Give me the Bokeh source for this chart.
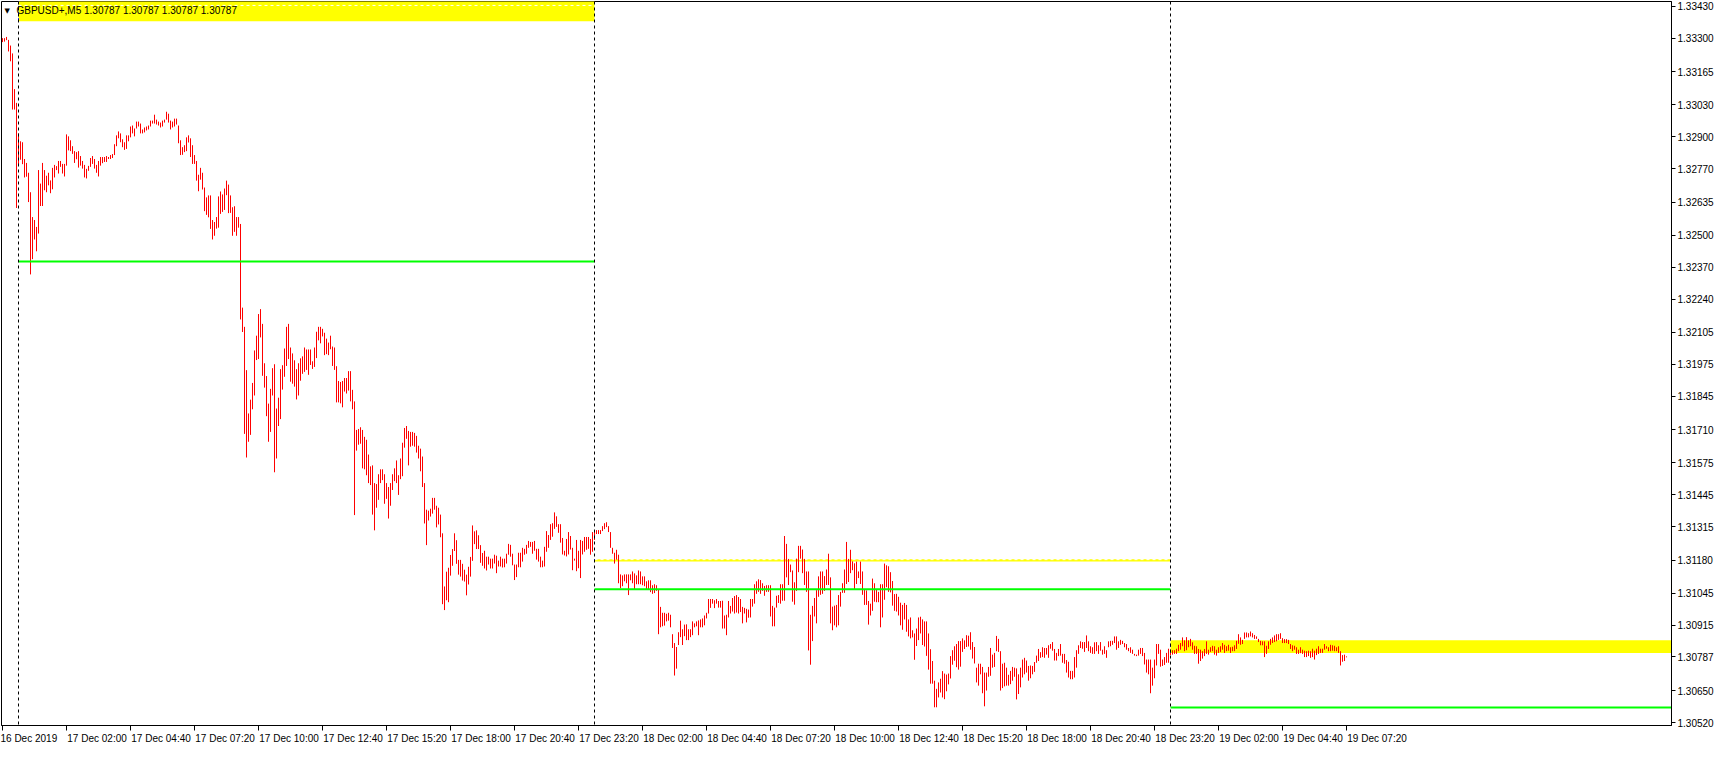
import pandas as pd
from bokeh.plotting import figure
from bokeh.models import Range1d, FixedTicker, PrintfTickFormatter, Span, Label, ColumnDataSource
from bokeh.embed import file_html
from bokeh.resources import INLINE

SYMBOL = "GBPUSD+,M5"
LAST_OHLC = [1.30787, 1.30787, 1.30787, 1.30787]
FIRST_BAR_TIME = "2019-12-16 23:20"
BAR_FREQ = "5min"
POINT = 0.00001  # prices below are stored in points (1e-5)

HIGH_PTS = [
    133301,133301,133306,133294,133271,133239,133094,133038,132914,132882,
    132878,132810,132794,132754,132675,132574,132562,132534,132765,132710,
    132794,132765,132742,132754,132723,132774,132786,132781,132802,132802,
    132790,132790,132910,132902,132886,132862,132842,132838,132842,132822,
    132802,132786,132770,132782,132814,132822,132810,132786,132802,132818,
    132818,132818,132822,132818,132826,132830,132870,132906,132922,132914,
    132890,132878,132906,132906,132942,132946,132934,132962,132962,132954,
    132930,132938,132942,132946,132966,132966,132990,132970,132962,132958,
    132966,132970,133002,132994,132966,132962,132974,132974,132946,132886,
    132858,132866,132898,132906,132894,132866,132826,132802,132746,132774,
    132754,132694,132654,132662,132662,132562,132554,132574,132658,132678,
    132666,132690,132722,132706,132662,132614,132618,132574,132574,132546,
    132206,
    132128,131952,131776,131832,131900,132032,132092,132180,132200,132140,
    131980,131928,131816,131876,131960,131976,131796,131840,131956,131972,
    132040,132128,132140,132044,132020,131992,131956,131980,132000,132008,
    132044,132036,132036,132036,131988,132044,132108,132128,132128,132120,
    132104,132080,132064,132092,132048,132044,131968,131908,131904,131908,
    131920,131920,131948,131948,131872,131825,131709,131713,131720,131709,
    131681,131669,131609,131561,131565,131493,131489,131529,131549,131549,
    131529,131493,131477,131493,131529,131553,131585,131525,131593,131657,
    131717,131725,131705,131701,131701,131697,131685,131645,131633,131601,
    131493,131385,131381,131389,131433,131433,131401,131393,131365,131289,
    131073,131133,131149,131201,131225,131289,131261,131181,131181,131165,
    131141,131121,131153,131193,131321,131297,131301,131281,
    131241,131209,
    131218,131194,131194,131186,131186,131202,131198,131178,131194,131186,
    131186,131206,131246,131242,131206,131162,131162,131210,131210,131230,
    131226,131242,131258,131254,131254,131258,131226,131226,131194,131178,
    131234,131298,131282,131326,131330,131374,131358,131326,131326,131270,
    131218,131266,131294,131278,131230,131186,131262,131218,131262,131258,
    131274,131274,131274,131266,131294,131302,131302,131302,131302,131318,
    131330,131334,131318,131294,131230,131210,131222,131202,131122,131118,
    131122,131122,131122,131122,131134,131126,131118,131138,131134,131114,
    131114,131094,131098,131098,131078,131082,131078,131062,130990,130966,
    130966,130962,130966,130958,130879,130843,130827,130887,130934,130899,
    130918,130919,130899,130899,130931,130923,130931,130935,130939,130943,
    130955,130966,131022,131022,131022,131017,131022,131014,131014,131015,
    130955,130958,131014,130994,131026,131034,131038,131030,131022,130990,
    130986,130982,130979,131022,131022,131082,131094,131102,131099,131086,
    131075,131078,131078,131078,130994,130987,131035,131038,131082,131082,
    131278,131246,131185,131162,131138,131090,131186,131238,131238,131223,
    131185,131134,131134,130958,130994,131026,131058,131114,131134,131134,
    131115,131142,131206,131110,130991,130995,130998,131038,131051,131086,
    131142,131254,131185,131222,131175,131167,131174,131134,131174,131134,
    131059,131057,131014,131003,131105,131086,131062,131051,131082,131082,
    131166,131159,131155,131131,131095,131042,131043,131031,131007,130998,
    131006,130998,130939,130947,130895,130882,130902,130947,130950,130939,
    130931,130931,130882,130818,130770,130690,130657,130683,130698,130729,
    130719,130715,130719,130790,130814,130830,130839,130851,130851,130862,
    130854,130875,130873,
    130887,130847,130827,130743,130759,130759,130746,130723,130723,130746,
    130823,130796,130803,130872,130860,130810,130759,130763,130743,130714,
    130730,130746,130743,130740,130716,130743,130776,130783,130772,130750,
    130752,130750,130766,130792,130819,130806,130826,130823,130823,130834,
    130839,130847,130819,130803,130819,130839,130799,130799,130774,130767,
    130730,130730,130786,130814,130834,130850,130847,130847,130874,130850,
    130830,130826,130846,130847,130834,130847,130816,130830,130814,130850,
    130852,130852,130870,130870,130850,130856,130852,130843,130839,130823,
    130826,130816,130799,130796,130816,130823,130823,130803,130776,130776,
    130776,130743,130776,130839,130839,130816,130776,130786,130803,130820,
    130816,130814,130814,130820,130836,130843,130866,130854,130867,130854,
    130860,130846,130832,130830,130819,130816,130810,130819,130850,130816,
    130826,130832,130830,130816,130826,130830,130843,130836,130830,130836,
    130826,130828,130834,130852,130879,130866,130856,130886,130886,130883,
    130890,130883,130876,130870,130860,130852,130850,130850,130832,130850,
    130860,130866,130874,130879,130879,130883,130863,130859,130859,130856,
    130839,130834,130832,130826,130816,130826,130816,130812,130810,130812,
    130810,130820,130812,130820,130830,130820,130820,130839,130830,130826,
    130836,130834,130832,130826,130830,130810,130794,130796,130789,
]

LOW_PTS = [
    133285,133287,133293,133247,133207,133011,133011,132611,132787,132807,
    132789,132735,132738,132635,132341,132403,132483,132435,132507,132619,
    132619,132683,132675,132703,132671,132687,132735,132765,132751,132778,
    132751,132739,132783,132845,132842,132831,132794,132809,132775,132783,
    132771,132735,132731,132762,132778,132790,132771,132754,132739,132783,
    132793,132798,132798,132810,132810,132814,132826,132862,132894,132878,
    132858,132847,132851,132882,132898,132914,132902,132934,132942,132914,
    132914,132918,132926,132930,132942,132954,132954,132950,132946,132938,
    132942,132958,132970,132958,132930,132938,132942,132950,132874,132826,
    132827,132838,132842,132877,132818,132790,132790,132722,132679,132726,
    132686,132598,132583,132573,132526,132483,132498,132527,132531,132587,
    132595,132603,132663,132590,132591,132498,132514,132498,132531,132158,
    132107,
    131693,131597,131661,131689,131793,131849,131993,131997,132085,131929,
    131881,131765,131661,131701,131849,131537,131593,131725,131753,131873,
    131925,131969,131997,131905,131897,131885,131833,131849,131909,131937,
    131945,131953,131933,131973,131957,131965,132001,132073,132061,132089,
    132013,132017,132013,132037,131969,131953,131821,131821,131817,131801,
    131865,131857,131869,131825,131793,131363,131625,131649,131653,131553,
    131549,131525,131493,131485,131365,131301,131393,131425,131493,131505,
    131409,131429,131349,131401,131465,131501,131493,131445,131509,131521,
    131637,131673,131565,131641,131645,131641,131617,131593,131541,131477,
    131329,131241,131341,131357,131369,131385,131313,131325,131273,131001,
    130977,131017,131009,131117,131157,131217,131165,131121,131113,131097,
    131093,131037,131081,131113,131177,131245,131225,131225,
    131169,131157,
    131146,131138,131162,131146,131146,131166,131127,131154,131154,131150,
    131151,131166,131202,131194,131159,131099,131111,131151,131151,131174,
    131202,131206,131230,131234,131206,131218,131182,131174,131151,131151,
    131154,131214,131230,131262,131275,131307,131315,131291,131251,131203,
    131199,131195,131203,131223,131139,131178,131135,131147,131107,131203,
    131214,131222,131226,131202,131214,131262,131286,131286,131286,131298,
    131306,131314,131294,131230,131206,131166,131182,131086,131066,131074,
    131094,131086,131038,131098,131086,131062,131082,131082,131082,131078,
    131074,131062,131062,131050,131043,131046,131055,130879,130907,130911,
    130914,130931,130934,130907,130823,130711,130739,130835,130867,130835,
    130871,130855,130855,130867,130875,130907,130911,130875,130907,130907,
    130915,130943,130963,130986,131003,130985,131003,130987,130987,130902,
    130902,130875,130947,130963,130971,130963,130967,130963,130969,130923,
    130963,130927,130946,130947,130991,131003,131043,131051,131043,131055,
    131035,131051,131051,130951,130911,130911,130987,131006,131003,131015,
    131015,131110,131079,131131,131011,130999,131055,131131,131186,131127,
    131079,131051,130813,130755,130851,130951,130923,131031,131039,131043,
    131055,131079,131079,130923,130895,130915,130907,130915,130991,131047,
    131047,131083,131091,131127,131139,131059,131083,131107,131083,131039,
    130998,130998,130918,130955,130974,131011,131009,131009,130907,130947,
    131019,131070,131051,131049,130995,130974,130971,130955,130915,130897,
    130939,130889,130870,130862,130866,130775,130831,130855,130882,130835,
    130829,130791,130735,130678,130678,130582,130582,130622,130642,130622,
    130615,130647,130675,130699,130755,130771,130745,130735,130747,130807,
    130819,130827,130829,
    130816,130780,130760,130683,130670,130716,130639,130586,130650,130706,
    130710,130743,130746,130810,130807,130650,130660,130667,130670,130670,
    130676,130690,130706,130614,130636,130663,130703,130716,130723,130690,
    130700,130716,130726,130763,130770,130783,130786,130783,130796,130783,
    130820,130812,130772,130772,130790,130792,130763,130759,130723,130703,
    130696,130696,130703,130743,130799,130823,130820,130807,130823,130810,
    130803,130799,130799,130810,130799,130812,130796,130799,130783,130826,
    130830,130836,130843,130816,130823,130836,130839,130826,130816,130810,
    130803,130799,130792,130790,130792,130799,130790,130756,130723,130716,
    130639,130670,130700,130752,130799,130747,130750,130754,130763,130763,
    130794,130796,130799,130799,130810,130816,130830,130810,130814,130826,
    130830,130816,130799,130799,130759,130770,130780,130790,130799,130796,
    130807,130810,130796,130792,130803,130807,130816,130803,130810,130812,
    130803,130810,130810,130819,130840,130836,130839,130860,130866,130866,
    130870,130866,130860,130860,130847,130834,130834,130786,130799,130819,
    130836,130843,130847,130850,130856,130860,130843,130843,130843,130839,
    130819,130810,130816,130799,130799,130802,130799,130786,130786,130790,
    130783,130786,130776,130794,130799,130803,130803,130816,130820,130810,
    130810,130812,130810,130810,130803,130752,130767,130770,130785,
]

TIME_LABELS = [
    "16 Dec 2019", "17 Dec 02:00", "17 Dec 04:40", "17 Dec 07:20", "17 Dec 10:00",
    "17 Dec 12:40", "17 Dec 15:20", "17 Dec 18:00", "17 Dec 20:40", "17 Dec 23:20",
    "18 Dec 02:00", "18 Dec 04:40", "18 Dec 07:20", "18 Dec 10:00", "18 Dec 12:40",
    "18 Dec 15:20", "18 Dec 18:00", "18 Dec 20:40", "18 Dec 23:20", "19 Dec 02:00",
    "19 Dec 04:40", "19 Dec 07:20",
]
LABEL_STEP_BARS = 32

PRICE_TICKS = [
    1.33430, 1.33300, 1.33165, 1.33030, 1.32900, 1.32770, 1.32635, 1.32500,
    1.32370, 1.32240, 1.32105, 1.31975, 1.31845, 1.31710, 1.31575, 1.31445,
    1.31315, 1.31180, 1.31045, 1.30915, 1.30650, 1.30520,
]
PRICE_MIN, PRICE_MAX = 1.30508, 1.33450

# daily levels drawn by the indicator (one entry per day: 17, 18, 19 Dec)
YELLOW_TOP = [1.33500, 1.31184, 1.30854]
YELLOW_BOTTOM = [1.33370, 1.31174, 1.30803]
YELLOW_DASH = [1.33434, 1.31182]
GREEN_LEVEL = [1.32393, 1.31062, 1.30581]

# ---------------------------------------------------------------------------
n = min(len(HIGH_PTS), len(LOW_PTS))
times = pd.date_range(FIRST_BAR_TIME, periods=n, freq=BAR_FREQ)
src = ColumnDataSource(dict(
    x=list(range(n)),
    high=[h * POINT for h in HIGH_PTS[:n]],
    low=[l * POINT for l in LOW_PTS[:n]],
))
day_starts = [i for i, t in enumerate(times) if t.hour == 0 and t.minute == 0]

FRAME_W, FRAME_H = 1670, 724
PX_PER_BAR = 2
x_start = -0.5
x_end = x_start + FRAME_W / PX_PER_BAR

FONT = "Liberation Sans"
FS = "10px"

p = figure(frame_width=FRAME_W, frame_height=FRAME_H,
           x_range=Range1d(x_start, x_end), y_range=Range1d(PRICE_MIN, PRICE_MAX),
           y_axis_location="right", output_backend="svg", toolbar_location=None,
           min_border_left=1, min_border_top=1, min_border_right=42, min_border_bottom=0,
           background_fill_color="white", border_fill_color="white")
p.grid.visible = False
p.outline_line_color = "black"
p.outline_line_width = 1
p.outline_line_alpha = 1

# yellow zones (background objects)
rights = day_starts[1:] + [x_end + 10]
p.quad(left=day_starts, right=rights, bottom=YELLOW_BOTTOM, top=YELLOW_TOP,
       fill_color="#ffff00", line_color=None)
p.segment(x0=day_starts[:2], x1=rights[:2], y0=YELLOW_DASH, y1=YELLOW_DASH,
          line_color="white", line_width=1, line_dash="3 3")

# bars
p.segment(x0="x", x1="x", y0="low", y1="high", source=src, line_color="#ff0000", line_width=1)

# green levels (foreground)
p.segment(x0=day_starts, x1=rights, y0=GREEN_LEVEL, y1=GREEN_LEVEL, line_color="#00ff00", line_width=2)

# period separators
for d in day_starts:
    p.add_layout(Span(location=d, dimension="height", line_color="black",
                      line_dash="3 3", line_width=1))
# separator seen through the yellow zones
p.segment(x0=day_starts, x1=day_starts, y0=YELLOW_BOTTOM, y1=YELLOW_TOP,
          line_color="#0000ff", line_width=1, line_dash="3 3")

# axes
tick_pos = [k * LABEL_STEP_BARS for k in range(len(TIME_LABELS))]
CHAR_W = {" ": 0.278, "D": 0.722, "e": 0.556, "c": 0.5, ":": 0.278}
def left_aligned(text, size_px=10.0, gap_px=3.0):
    # axis labels are centred on the tick; pad with no-break spaces so the visible text starts at the tick
    w = sum(CHAR_W.get(ch, 0.556) for ch in text) * size_px + gap_px
    return "\u00a0" * round(w / (0.278 * size_px)) + text
labels = {t: left_aligned(lab) for t, lab in zip(tick_pos, TIME_LABELS)}
labels[tick_pos[0]] = TIME_LABELS[0]   # the first label is already pushed against the left edge
p.xaxis.ticker = FixedTicker(ticks=tick_pos, minor_ticks=[])
p.xaxis.major_label_overrides = labels
# price scale, including the current (last close) price
p.yaxis.ticker = FixedTicker(ticks=sorted(PRICE_TICKS + [LAST_OHLC[3]]), minor_ticks=[])
p.yaxis.formatter = PrintfTickFormatter(format="%.5f")
for ax in (p.xaxis[0], p.yaxis[0]):
    ax.axis_line_color = "black"
    ax.major_tick_line_color = "black"
    ax.major_tick_in = 0
    ax.minor_tick_line_color = None
    ax.major_label_text_font = FONT
    ax.major_label_text_font_size = FS
    ax.major_label_text_color = "black"
p.xaxis.major_tick_out = 5
p.xaxis.major_label_standoff = 2
p.yaxis.major_tick_out = 4
p.yaxis.major_label_standoff = 2

# header text
p.add_layout(Label(x=3, y=FRAME_H - 9, x_units="screen", y_units="screen", text="\u25bc",
                   text_font="DejaVu Sans", text_font_size="7px", text_baseline="middle",
                   text_color="black"))
p.add_layout(Label(x=15, y=FRAME_H - 9, x_units="screen", y_units="screen",
                   text=SYMBOL + "  " + " ".join("%.5f" % v for v in LAST_OHLC),
                   text_font=FONT, text_font_size="10px", text_baseline="middle",
                   text_color="black"))

open("out.html", "w").write(file_html(p, INLINE))
